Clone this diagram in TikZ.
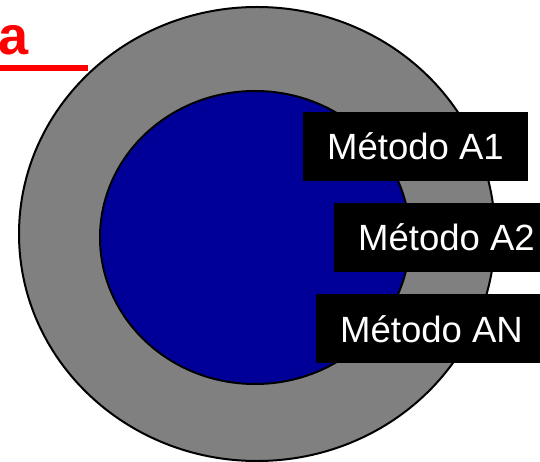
\documentclass[tikz,border=0pt]{standalone}
\usepackage{fontspec}
\setmainfont{Liberation Sans}[BoldFont={Liberation Sans Bold}]
\newfontfamily\titlefont{Liberation Sans Bold}
\usepackage{tikz}
\usetikzlibrary{positioning}
\definecolor{ringgray}{RGB}{128,128,128}
\definecolor{coreblue}{RGB}{0,0,153}
\tikzset{
        methodbox/.style = {rectangle, fill=black, text=white,
            anchor=west, inner xsep=24pt, inner ysep=0pt,
            text height=27pt, text depth=0pt,
            minimum height=69pt,
            font=\fontsize{36.5}{40}\selectfont},
        ring/.style = {draw=black, line width=2pt},
    }

\begin{document}
\begin{tikzpicture}[x=1pt,y=1pt,yscale=-1,xscale=1]
\clip (0,0) rectangle (540,462);

%Outer ring
\draw [ring, fill=ringgray] (257,234) ellipse [x radius=238, y radius=227];
%Inner core
\draw [ring, fill=coreblue] (255,237.5) ellipse [x radius=155, y radius=146.5];

%Title rest and underline
\node [anchor=base west, inner sep=0pt, text=red, font=\titlefont\fontsize{54}{60}\selectfont] (title) at (-1.5,55) {a};
\draw [red, line width=6pt] (0,68) -- (88,68);

% Method labels
\node [methodbox] (mA1) at (303,146.5) {Método A1};
\node [methodbox] (mA2) at (334,237.5) {Método A2};
\node [methodbox] (mAN) at (316,328.5) {Método AN};

\end{tikzpicture}
\end{document}
